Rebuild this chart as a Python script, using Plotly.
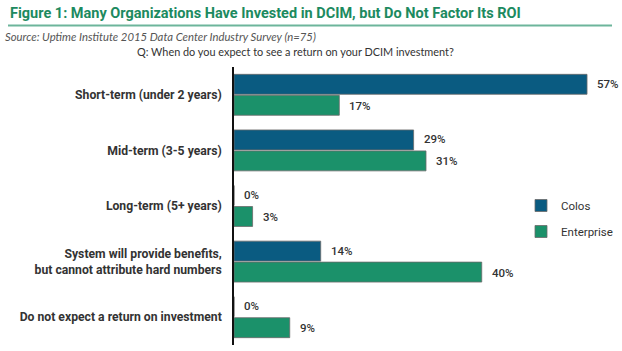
import plotly.graph_objects as go

categories = [
    "Short-term (under 2 years)",
    "Mid-term (3-5 years)",
    "Long-term (5+ years)",
    "System will provide benefits,<br>but cannot attribute hard numbers",
    "Do not expect a return on investment",
]
colos = [57, 29, 0, 14, 0]
enterprise = [17, 31, 3, 40, 9]
series_names = ["Colos", "Enterprise"]

title_text = "Figure 1: Many Organizations Have Invested in DCIM, but Do Not Factor Its ROI"
source_text = "Source: Uptime Institute 2015 Data Center Industry Survey (n=75)"
question_text = "Q: When do you expect to see a return on your DCIM investment?"

W, H = 622, 351
ML, MR, MT, MB = 234, 4, 67, 6
PW = W - ML - MR
PH = H - MT - MB


def px_x(p):
    return (p - ML) / PW


def px_y(p):
    return (H - MB - p) / PH


COLOS_C = "#0a5b81"
ENT_C = "#1b916a"
GREEN = "#1c8a60"

fig = go.Figure()
fig.add_trace(go.Bar(
    y=categories, x=colos, orientation="h", name=series_names[0],
    marker=dict(color=COLOS_C, line=dict(color="#6a6a6a", width=0.8)),
    legendgroup="a",
))
fig.add_trace(go.Bar(
    y=categories, x=enterprise, orientation="h", name=series_names[1],
    marker=dict(color=ENT_C, line=dict(color="#6a6a6a", width=0.8)),
    legendgroup="b",
))

annotations = []
for vals, shift in ((colos, 11), (enterprise, -11)):
    for c, v in zip(categories, vals):
        annotations.append(dict(
            x=v, y=c, xref="x", yref="y", text=f"{v}%", showarrow=False,
            xanchor="left", yanchor="middle", xshift=8, yshift=shift,
            font=dict(family="Roboto", size=11.5, color="#333333", weight=500),
        ))

annotations.append(dict(
    x=px_x(8), y=px_y(13), xref="paper", yref="paper", text=title_text,
    showarrow=False, xanchor="left", yanchor="middle",
    font=dict(family="Roboto", size=14.5, color=GREEN, weight="bold"),
))
annotations.append(dict(
    x=px_x(3), y=px_y(36), xref="paper", yref="paper", text=f"<i>{source_text}</i>",
    showarrow=False, xanchor="left", yanchor="middle",
    font=dict(family="Lato", size=11.3, color="#555555"),
))
annotations.append(dict(
    x=px_x(295), y=px_y(52), xref="paper", yref="paper", text=question_text,
    showarrow=False, xanchor="center", yanchor="middle",
    font=dict(family="Lato", size=10.9, color="#333333"),
))

fig.update_layout(
    width=W, height=H,
    margin=dict(l=ML, r=MR, t=MT, b=MB, autoexpand=False),
    paper_bgcolor="white", plot_bgcolor="white",
    barmode="group", bargap=0.245, bargroupgap=0.05,
    showlegend=True,
    legend=dict(
        x=px_x(521), y=px_y(191), xanchor="left", yanchor="top",
        xref="paper", yref="paper",
        font=dict(family="Roboto", size=11.5, color="#333333"),
        tracegroupgap=7, itemwidth=30, traceorder="grouped",
        bgcolor="rgba(0,0,0,0)",
    ),
    xaxis=dict(visible=False, range=[0, 62], fixedrange=True),
    yaxis=dict(
        autorange="reversed", showline=True, linecolor="#111111", linewidth=1.5,
        showgrid=False, zeroline=False, ticks="", ticklabelstandoff=8,
        tickfont=dict(family="Roboto", size=12.2, color="#333333", weight="bold"),
    ),
    annotations=annotations,
    shapes=[dict(
        type="line", xref="paper", yref="paper",
        x0=px_x(8), x1=px_x(612), y0=px_y(25.5), y1=px_y(25.5),
        line=dict(color="#6db59b", width=2),
    )],
)

fig.write_html("out.html")
